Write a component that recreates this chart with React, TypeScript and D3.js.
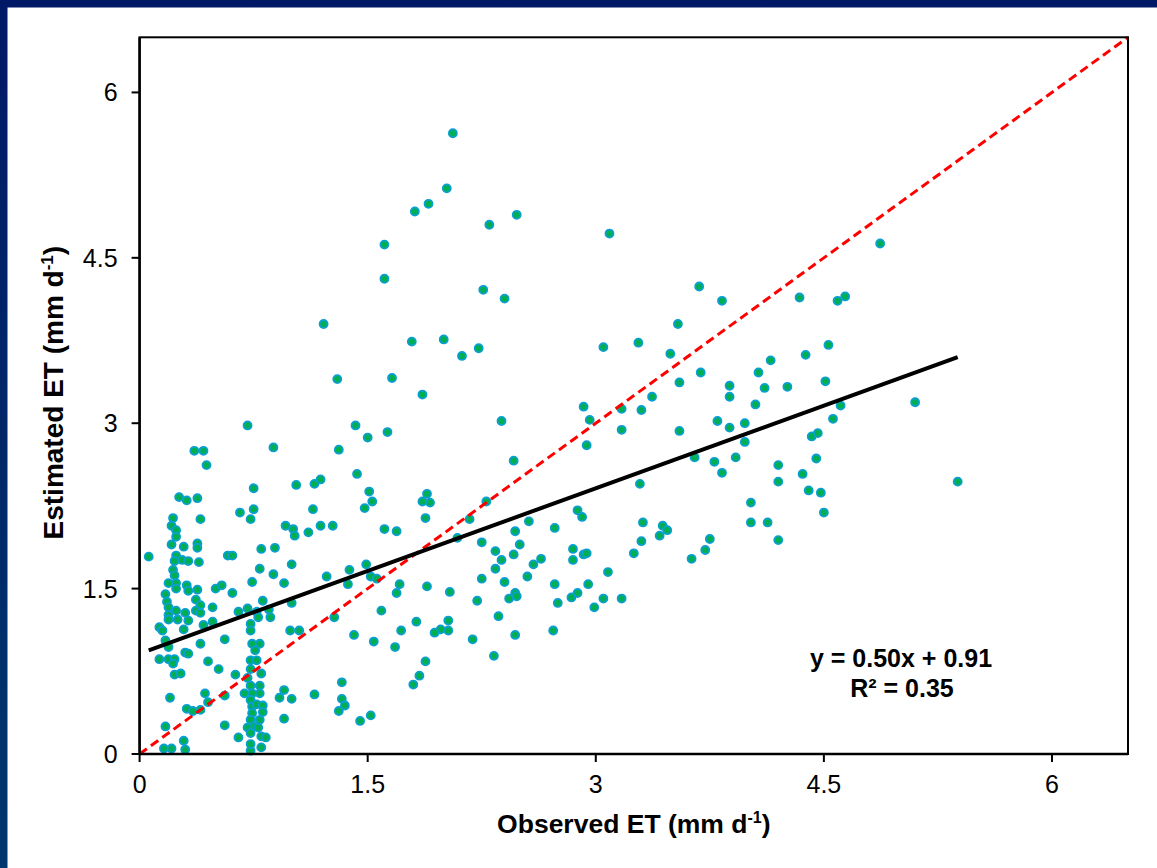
import React from "react";
import { scaleLinear, line } from "d3";

const observed = [
  2.06, 2.02, 1.90, 1.81, 2.30, 2.48, 1.61, 1.61, 2.26, 2.40,
  1.21, 1.79, 2.00, 2.12, 2.23, 1.30, 1.66, 1.86, 3.09, 4.87,
  3.68, 3.83, 4.34, 4.59, 4.64, 3.54, 3.05, 3.28, 3.49, 4.53,
  4.38, 4.15, 4.07, 3.69, 3.55, 3.88, 4.11, 4.26, 4.51, 3.37,
  3.88, 5.10, 4.05, 4.61, 3.80, 3.98, 3.88, 4.56, 4.42, 4.46,
  3.98, 3.65, 3.92, 3.78, 4.20, 4.45, 3.83, 4.36, 4.20, 5.38,
  4.40, 4.48, 4.02, 4.50, 4.02, 4.13, 4.20, 3.75, 3.72, 3.63,
  2.38, 2.92, 2.96, 3.17, 3.30, 3.17, 3.55, 2.94, 2.46, 2.28,
  2.17, 3.29, 2.88, 2.91, 2.56, 2.47, 2.73, 3.31, 3.44, 3.47,
  3.42, 3.30, 2.25, 2.50, 2.34, 2.46, 2.38, 2.64, 2.59, 2.85,
  2.85, 2.92, 2.94, 3.25, 2.34, 3.08, 2.25, 2.40, 2.55, 2.73,
  2.95, 2.47, 2.48, 2.43, 2.84, 2.88, 3.05, 3.17, 2.75, 2.99,
  2.22, 2.36, 2.72, 2.47, 2.19, 2.33,
  1.42, 1.50, 1.63, 1.31, 1.03, 1.15, 1.19, 1.43, 1.51, 1.53,
  1.48, 1.14, 1.89, 1.86, 1.91, 1.88, 1.01, 1.02, 1.11, 1.19,
  1.27, 1.61, 1.69, 1.00, 1.38, 1.49, 1.52, 1.56, 1.23, 1.37,
  1.71, 1.69, 1.89, 2.04, 1.00, 1.59, 1.28, 0.99, 1.05, 1.41,
  1.54, 1.68, 1.82, 2.03, 1.98, 1.94, 2.03, 1.72, 1.88, 1.84,
  1.80, 1.33, 1.15, 1.00, 1.33, 1.35, 1.31, 1.52, 1.45, 2.09,
  0.71, 0.36, 0.42, 0.88, 0.44, 0.75, 0.26, 0.31, 0.38, 0.66,
  0.75, 0.73, 0.22, 0.40, 0.21, 0.24, 0.96, 0.24, 0.21, 0.38,
  0.38, 0.29, 0.80, 0.89, 0.06, 0.58, 0.61, 0.24, 0.23, 0.28,
  0.32, 0.39, 0.22, 0.23, 0.79, 0.88, 0.74, 0.95, 0.19, 0.24,
  0.24, 0.31, 0.32, 0.38, 0.50, 0.54, 0.61, 0.17, 0.18, 0.19,
  0.37, 0.40, 0.37, 0.40, 0.24, 0.19, 0.25, 0.19, 0.30, 0.32,
  0.29, 0.48, 0.65, 0.71, 0.77, 0.81, 0.85, 0.86, 0.73, 0.73,
  0.78, 0.48, 0.42, 0.13, 0.15, 0.17, 0.19, 0.56, 0.40, 0.74,
  0.79, 0.76, 0.13, 0.19, 0.23, 0.22, 0.30, 0.32, 0.45, 0.52,
  0.73, 0.77, 0.73, 0.23, 0.27, 0.63, 0.80, 0.71, 0.73, 0.79,
  0.74, 0.79, 0.69, 0.95, 0.43, 0.20, 0.56, 0.92, 0.45, 0.73,
  0.74, 0.77, 0.81, 0.81, 0.74, 0.31, 0.35, 0.40, 0.73, 0.79,
  0.75, 0.71, 0.78, 0.95, 0.17, 0.56, 0.73, 0.80, 0.83, 0.65,
  0.29, 0.16, 0.21, 0.30, 0.73, 0.80, 0.73,
];

const estimated = [
  5.63, 5.13, 4.99, 4.92, 4.80, 4.89, 4.62, 4.31, 4.21, 4.13,
  3.90, 3.74, 3.76, 3.61, 3.68, 3.40, 3.41, 3.26, 4.72, 4.63,
  4.24, 4.11, 4.14, 4.11, 4.15, 3.90, 3.69, 3.73, 3.63, 3.71,
  3.62, 3.57, 3.46, 3.46, 3.37, 3.34, 3.32, 3.33, 3.38, 3.24,
  3.24, 3.19, 3.17, 3.16, 3.02, 3.00, 2.96, 3.04, 2.88, 2.91,
  2.83, 2.69, 2.69, 2.65, 2.62, 2.68, 2.55, 2.54, 2.47, 2.47,
  2.39, 2.37, 2.28, 2.19, 2.10, 2.10, 1.94, 1.95, 1.85, 1.77,
  3.02, 3.15, 3.03, 3.13, 3.12, 2.94, 2.93, 2.80, 2.66, 2.29,
  2.13, 2.45, 2.21, 2.15, 2.11, 2.02, 2.05, 2.10, 2.07, 2.03,
  1.98, 1.93, 1.92, 1.90, 1.84, 1.81, 1.76, 1.77, 1.72, 1.86,
  1.76, 1.81, 1.82, 1.82, 1.68, 1.65, 1.59, 1.56, 1.61, 1.54,
  1.54, 1.46, 1.43, 1.41, 1.42, 1.46, 1.41, 1.41, 1.37, 1.33,
  1.39, 1.25, 1.12, 1.08, 1.04, 0.89,
  2.98, 2.87, 2.92, 2.76, 2.44, 2.45, 2.49, 2.54, 2.38, 2.29,
  2.23, 2.22, 2.36, 2.29, 2.28, 2.14, 2.04, 1.98, 2.01, 2.07,
  2.07, 2.04, 2.02, 1.72, 1.67, 1.72, 1.61, 1.59, 1.61, 1.54,
  1.54, 1.46, 1.52, 1.47, 1.37, 1.30, 1.24, 1.12, 1.12, 1.08,
  1.02, 0.97, 1.20, 1.21, 1.13, 1.10, 1.12, 1.12, 0.84, 0.71,
  0.63, 0.65, 0.54, 0.50, 0.50, 0.44, 0.39, 0.35, 0.30, 1.96,
  2.98, 2.75, 2.75, 2.78, 2.62, 2.41, 2.33, 2.30, 2.32, 2.19,
  2.22, 2.13, 2.14, 2.13, 2.07, 2.03, 2.07, 1.97, 1.90, 1.91,
  1.87, 1.88, 1.86, 1.87, 1.79, 1.80, 1.80, 1.80, 1.75, 1.76,
  1.75, 1.74, 1.67, 1.62, 1.68, 1.63, 1.56, 1.55, 1.55, 1.55,
  1.50, 1.53, 1.48, 1.49, 1.50, 1.53, 1.46, 1.45, 1.38, 1.33,
  1.40, 1.35, 1.30, 1.28, 1.30, 1.26, 1.22, 1.22, 1.28, 1.21,
  1.13, 1.33, 1.29, 1.32, 1.29, 1.39, 1.31, 1.24, 1.18, 1.12,
  1.24, 1.20, 1.17, 1.15, 1.12, 1.03, 0.97, 1.04, 1.00, 1.00,
  1.00, 0.94, 0.86, 0.86, 0.86, 0.82, 0.92, 0.91, 0.84, 0.77,
  0.85, 0.85, 0.77, 0.72, 0.73, 0.72, 0.73, 0.69, 0.62, 0.62,
  0.55, 0.55, 0.55, 0.58, 0.55, 0.51, 0.53, 0.51, 0.47, 0.49,
  0.43, 0.45, 0.44, 0.38, 0.37, 0.41, 0.39, 0.40, 0.31, 0.31,
  0.25, 0.24, 0.24, 0.32, 0.25, 0.26, 0.19, 0.16, 0.15, 0.15,
  0.12, 0.05, 0.05, 0.04, 0.03, 0.06, 0.09,
];

const tickValues = [0, 1.5, 3, 4.5, 6];
const axisMax = 6.5;
const slope = 0.5;
const intercept = 0.91;
const rSquared = 0.35;

const W = 1157;
const H = 868;
const margin = { top: 37.3, right: 29, bottom: 114, left: 139.6 };
const font = "'Liberation Sans', Arial, sans-serif";

export default function App() {
  const x = scaleLinear()
    .domain([0, axisMax])
    .range([margin.left, W - margin.right]);
  const y = scaleLinear()
    .domain([0, axisMax])
    .range([H - margin.bottom, margin.top]);

  const pts = observed.map((o, i) => [o, estimated[i]]);
  const xmin = Math.min(...observed);
  const xmax = Math.max(...observed);

  const path = line<number[]>()
    .x((d) => x(d[0]))
    .y((d) => y(d[1]));

  const fitLine = path([
    [xmin, slope * xmin + intercept],
    [xmax, slope * xmax + intercept],
  ]);
  const oneToOne = path([
    [0, 0],
    [axisMax, axisMax],
  ]);

  const x0 = x(0);
  const y0 = y(0);

  return (
    <div style={{ position: "absolute", left: 0, top: 0 }}>
      <svg width={W} height={H} style={{ display: "block" }}>
        <defs>
          <linearGradient id="frame" x1="0" y1="0" x2="0" y2="1">
            <stop offset="0%" stopColor="#001966" />
            <stop offset="100%" stopColor="#00376c" />
          </linearGradient>
        </defs>
        <rect x={0} y={0} width={W} height={H} fill="url(#frame)" />
        <rect x={7.5} y={7.5} width={W} height={H} fill="#ffffff" />

        {/* points */}
        <g>
          {pts.map((d, i) => (
            <circle
              key={i}
              cx={x(d[0])}
              cy={y(d[1])}
              r={4}
              fill="#00b050"
              stroke="#0a9fd2"
              strokeWidth={1.8}
            />
          ))}
        </g>

        {/* 1:1 line and fit */}
        <path d={oneToOne || ""} stroke="#ff0000" strokeWidth={3} strokeDasharray="9,5" fill="none" />
        <path d={fitLine || ""} stroke="#000000" strokeWidth={4} fill="none" />

        {/* frame */}
        <rect
          x={x0}
          y={y(axisMax)}
          width={x(axisMax) - x0}
          height={y0 - y(axisMax)}
          fill="none"
          stroke="#000"
          strokeWidth={2}
        />
        <line x1={x0} x2={x(axisMax)} y1={y0} y2={y0} stroke="#000" strokeWidth={2.5} />
        <line x1={x0} x2={x0} y1={y0} y2={y(axisMax)} stroke="#000" strokeWidth={2.5} />

        {/* x ticks */}
        {tickValues.map((t) => (
          <g key={"x" + t}>
            <line x1={x(t)} x2={x(t)} y1={y0} y2={y0 + 8} stroke="#000" strokeWidth={2} />
            <text x={x(t)} y={y0 + 39} textAnchor="middle" fontFamily={font} fontSize={25} fill="#000">
              {String(t)}
            </text>
          </g>
        ))}

        {/* y ticks */}
        {tickValues.map((t) => (
          <g key={"y" + t}>
            <line x1={x0 - 8} x2={x0} y1={y(t)} y2={y(t)} stroke="#000" strokeWidth={2} />
            <text x={x0 - 22} y={y(t) + 9} textAnchor="end" fontFamily={font} fontSize={25} fill="#000">
              {String(t)}
            </text>
          </g>
        ))}

        {/* axis titles */}
        <text
          x={(x0 + x(axisMax)) / 2}
          y={833}
          textAnchor="middle"
          fontFamily={font}
          fontWeight="bold"
          fontSize={26.5}
          fill="#000"
        >
          Observed ET (mm d
          <tspan dy={-10} fontSize={16}>-1</tspan>
          <tspan dy={10}>)</tspan>
        </text>
        <text
          transform={`translate(63, ${(y0 + y(axisMax)) / 2 - 3}) rotate(-90)`}
          textAnchor="middle"
          fontFamily={font}
          fontWeight="bold"
          fontSize={28}
          fill="#000"
        >
          Estimated ET (mm d
          <tspan dy={-10} fontSize={17}>-1</tspan>
          <tspan dy={10}>)</tspan>
        </text>

        {/* regression equation */}
        <text x={901} y={667} textAnchor="middle" fontFamily={font} fontWeight="bold" fontSize={25} fill="#000">
          {`y = ${slope.toFixed(2)}x + ${intercept.toFixed(2)}`}
        </text>
        <text x={902} y={697} textAnchor="middle" fontFamily={font} fontWeight="bold" fontSize={25} fill="#000">
          {`R² = ${rSquared.toFixed(2)}`}
        </text>
      </svg>
    </div>
  );
}
